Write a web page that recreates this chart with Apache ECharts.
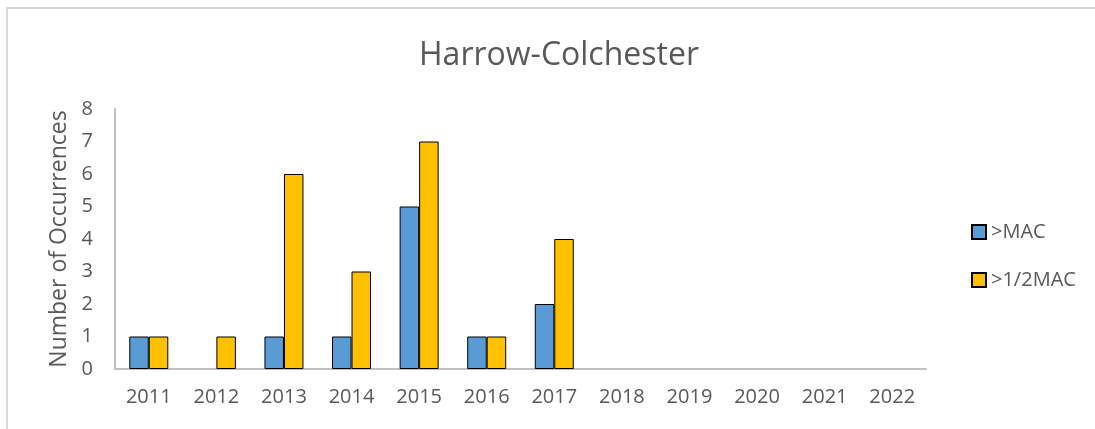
<!DOCTYPE html>
<html>
<head>
<meta charset="utf-8">
<script src="https://cdn.jsdelivr.net/npm/echarts@6/dist/echarts.min.js"></script>
<style>
html,body{margin:0;padding:0;background:#fff;overflow:hidden;}
#frame{position:absolute;left:6px;top:7px;width:1200px;height:500px;border-left:2px solid #d9d9d9;border-top:2px solid #d9d9d9;}
#main{position:absolute;left:0;top:0;width:1095px;height:429px;}
</style>
</head>
<body>
<div id="frame"></div>
<div id="main"></div>
<script>
const title = 'Harrow-Colchester';
const yAxisName = 'Number of Occurrences';
const years = ['2011','2012','2013','2014','2015','2016','2017','2018','2019','2020','2021','2022'];
const seriesNames = ['>MAC', '>1/2MAC'];
const macValues = [1, 0, 1, 1, 5, 1, 2, 0, 0, 0, 0, 0];
const halfMacValues = [1, 1, 6, 3, 7, 1, 4, 0, 0, 0, 0, 0];

// zero-height bars are not drawn (no border line at the baseline)
const hideZero = arr => arr.map(v => (v === 0 ? '-' : v));

const chart = echarts.init(document.getElementById('main'), null, {renderer: 'canvas'});
const font = '"Open Sans", sans-serif';
chart.setOption({
  backgroundColor: 'transparent',
  animation: false,
  title: {
    text: title,
    left: 554, top: 35,
    textAlign: 'center',
    textStyle: {fontFamily: font, fontSize: 32, fontWeight: 'normal', color: '#595959'}
  },
  legend: {
    orient: 'vertical',
    left: 966, top: 217,
    itemWidth: 14, itemHeight: 14, itemGap: 28,
    icon: 'rect',
    textStyle: {fontFamily: font, fontSize: 20, color: '#595959'},
    data: seriesNames
  },
  grid: {left: 115, right: 169, top: 109, bottom: 60},
  xAxis: {
    type: 'category',
    data: years,
    axisLine: {lineStyle: {color: '#bfbfbf', width: 2}},
    axisTick: {show: false},
    axisLabel: {fontFamily: font, fontSize: 20, color: '#595959', margin: 18}
  },
  yAxis: {
    type: 'value',
    min: 0, max: 8, interval: 1,
    name: yAxisName,
    nameLocation: 'middle',
    nameGap: 44,
    nameTextStyle: {fontFamily: font, fontSize: 23, color: '#595959'},
    axisLine: {show: true, lineStyle: {color: '#bfbfbf', width: 2}},
    axisTick: {show: false},
    splitLine: {show: false},
    axisLabel: {fontFamily: font, fontSize: 20, color: '#595959', margin: 22}
  },
  series: [
    {name: seriesNames[0], type: 'bar', data: hideZero(macValues), barWidth: 19.5, barGap: '0%',
     itemStyle: {color: '#5b9bd5', borderColor: '#000', borderWidth: 1}},
    {name: seriesNames[1], type: 'bar', data: hideZero(halfMacValues), barWidth: 19.5, barGap: '0%',
     itemStyle: {color: '#ffc000', borderColor: '#000', borderWidth: 1}}
  ]
});
</script>
</body>
</html>
